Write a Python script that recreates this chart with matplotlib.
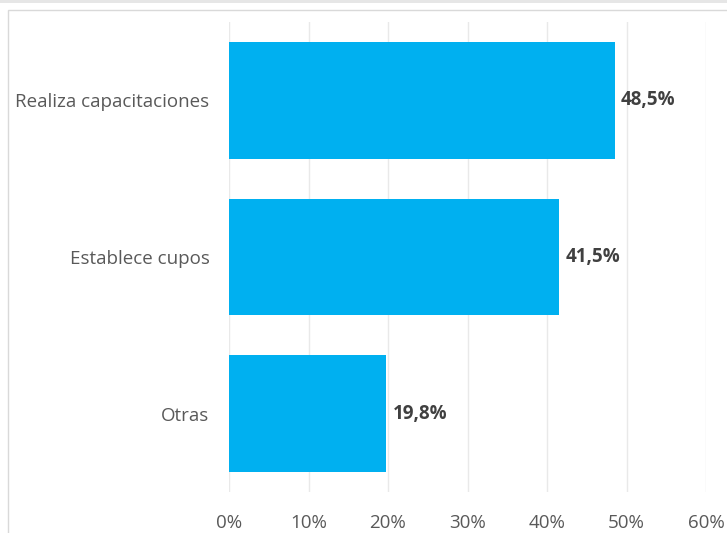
import matplotlib.pyplot as plt
from matplotlib.patches import Rectangle

categories = ["Realiza capacitaciones", "Establece cupos", "Otras"]
values = [48.5, 41.5, 19.8]
ticks = [0, 10, 20, 30, 40, 50, 60]

plt.rcParams['font.family'] = ['Open Sans', 'DejaVu Sans']

fig = plt.figure(figsize=(7.27, 5.33), dpi=100)
W, H = 727, 533

# light band at top and chart frame
fig.patches.append(Rectangle((0, 1 - 3 / H), 1, 3 / H, transform=fig.transFigure,
                             facecolor="#e6e6e6", edgecolor="none"))
fig.patches.append(Rectangle((8 / W, -0.1), 1.2, 1 - 10 / H + 0.1, transform=fig.transFigure,
                             facecolor="none", edgecolor="#d9d9d9", linewidth=1))

ax = fig.add_axes([229 / W, 1 - 492 / H, (706 - 229) / W, (492 - 22) / H])

y = list(range(len(categories)))
ax.barh(y, values, height=0.745, color="#00B0F0", zorder=3)
for yi, v in zip(y, values):
    ax.text(v + 0.8, yi, f"{v:.1f}%".replace(".", ","), va="center", ha="left",
            fontsize=13.5, fontweight="bold", color="#404040")

ax.set_xlim(0, 60)
ax.set_ylim(len(categories) - 0.5, -0.5)
ax.set_xticks(ticks)
ax.set_xticklabels([f"{t}%" for t in ticks])
ax.set_yticks(y)
ax.set_yticklabels(categories)
ax.tick_params(axis="both", length=0, labelsize=13.5, labelcolor="#595959")
ax.tick_params(axis="x", pad=16)
ax.tick_params(axis="y", pad=14)
ax.grid(axis="x", color="#e9e9e9", linewidth=1, zorder=0)
for s in ax.spines.values():
    s.set_visible(False)

fig.savefig("out.png", dpi=100)
